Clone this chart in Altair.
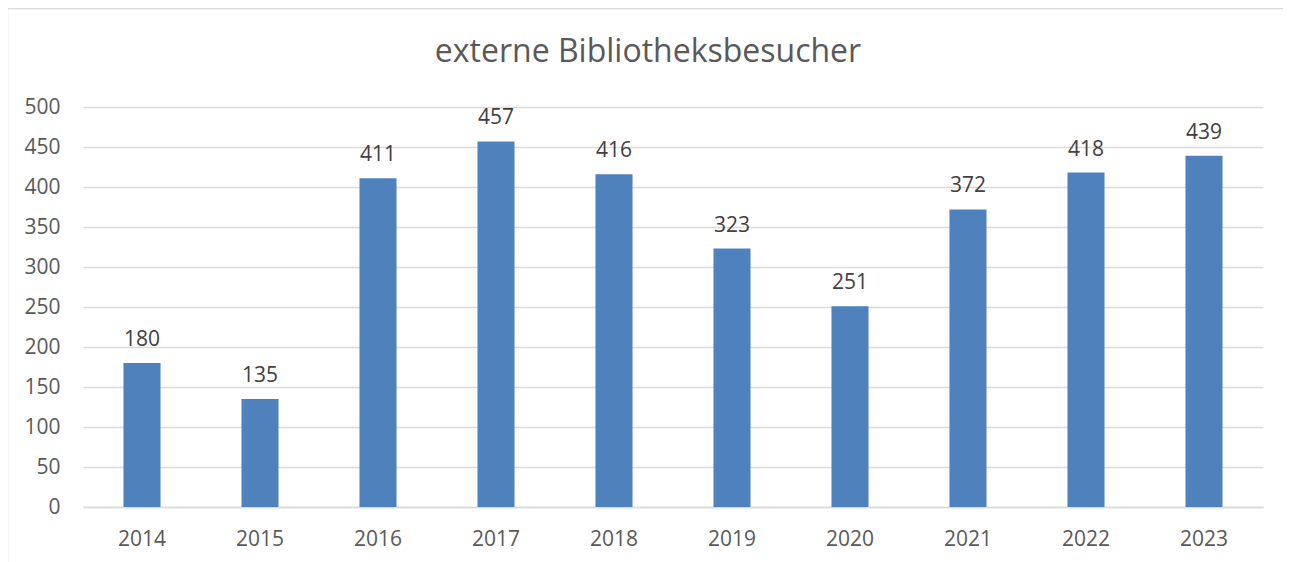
import altair as alt
import pandas as pd

years = ["2014", "2015", "2016", "2017", "2018", "2019", "2020", "2021", "2022", "2023"]
visitors = [180, 135, 411, 457, 416, 323, 251, 372, 418, 439]
y_ticks = [0, 50, 100, 150, 200, 250, 300, 350, 400, 450, 500]

df = pd.DataFrame({"Jahr": years, "Besucher": visitors})

FONT = "Open Sans"

x_enc = alt.X(
    "Jahr:N",
    sort=None,
    title=None,
    scale=alt.Scale(paddingInner=0.686, paddingOuter=0.343),
    axis=alt.Axis(
        labelAngle=0,
        labelFont=FONT,
        labelFontSize=21,
        labelColor="#595959",
        labelPadding=21,
        ticks=False,
        domain=True,
        domainColor="#d9d9d9",
        domainWidth=1.5,
        grid=False,
    ),
)
y_enc = alt.Y(
    "Besucher:Q",
    title=None,
    scale=alt.Scale(domain=[0, 500], nice=False),
    axis=alt.Axis(
        values=y_ticks,
        labelOverlap=False,
        labelFont=FONT,
        labelFontSize=21,
        labelColor="#595959",
        labelPadding=23,
        ticks=False,
        domain=False,
        grid=True,
        gridColor="#d9d9d9",
        gridWidth=1.5,
    ),
)

base = alt.Chart(df).encode(x=x_enc, y=y_enc)

bars = base.mark_bar(color="#4f81bd")

labels = base.mark_text(
    font=FONT, fontSize=21, color="#404040", baseline="alphabetic", dy=-17
).encode(text="Besucher:Q")

frame = alt.Chart(pd.DataFrame({"a": [0]})).mark_rect(
    fill=None, stroke="#d9d9d9", strokeWidth=1.5
).encode(x=alt.value(-75.5), y=alt.value(-98.5), x2=alt.value(1400), y2=alt.value(700))

chart = (
    alt.layer(frame, bars, labels)
    .properties(
        width=1180,
        height=400,
        background="white",
        title=alt.TitleParams(
            "externe Bibliotheksbesucher",
            font=FONT,
            fontSize=32,
            fontWeight="normal",
            color="#595959",
            anchor="middle",
            dx=-25,
            dy=91,
            offset=30,
        ),
        autosize=alt.AutoSizeParams(type="none"),
        padding={"left": 75, "top": 99, "right": 20, "bottom": 60},
    )
    .configure_view(stroke="transparent", strokeWidth=0)
)

chart.save("out.html", embed_options={"renderer": "svg", "actions": False})
